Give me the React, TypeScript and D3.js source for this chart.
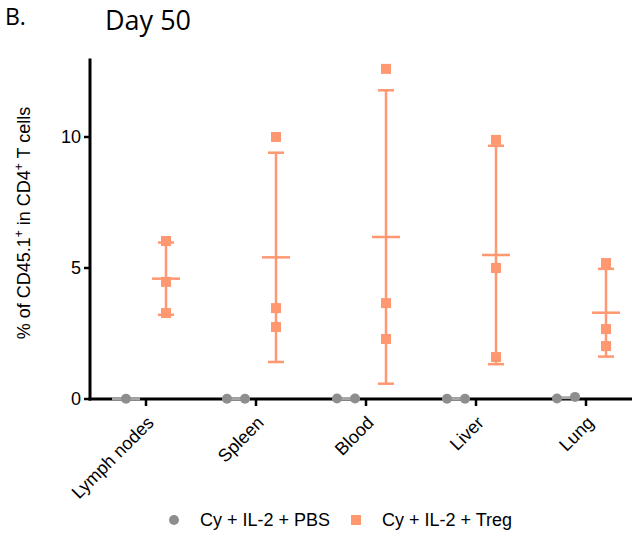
import React from "react";
import * as d3 from "d3";

// organs on the x axis
const categories = ["Lymph nodes", "Spleen", "Blood", "Liver", "Lung"];
// Cy + IL-2 + PBS (all near zero)
const pbsValues = [[0.01], [0.01, 0.01], [0.02, 0.02], [0.01, 0.01], [0.02, 0.08]];
// Cy + IL-2 + Treg
const tregValues = [
  [6.03, 4.47, 3.28],
  [10.0, 3.47, 2.75],
  [12.6, 3.66, 2.29],
  [9.89, 5.0, 1.6],
  [5.19, 2.67, 2.02],
];
const yTicks = [0, 5, 10];
const seriesNames = ["Cy + IL-2 + PBS", "Cy + IL-2 + Treg"];

const GREY = "#8e8e8e";
const ORANGE = "#ff9771";
const FONT = "Liberation Sans, Arial, sans-serif";

export default function App() {
  const width = 637;
  const height = 536;
  const left = 90;
  const right = 632;

  const y = d3.scaleLinear().domain([0, 13]).range([399, 58.4]);
  const x = d3.scalePoint().domain(categories).range([146, 586]);
  const xTreg = (c: string) => (x(c) as number) + 20;
  const xPbs = (c: string) => (x(c) as number) - 20;

  const stats = (v: number[]) => {
    const m = d3.mean(v) as number;
    const sd = d3.deviation(v) || 0;
    return { m, sd };
  };

  return (
    <svg width={width} height={height} style={{ position: "absolute", left: 0, top: 0 }}>
      <rect width={width} height={height} fill="#fff" />
      <text x={5} y={25} fontFamily="Open Sans, sans-serif" fontSize={23}>B.</text>
      <text x={105} y={30} fontFamily="Open Sans, sans-serif" fontSize={27}>Day 50</text>

      {/* y label */}
      <text
        transform={`translate(30,223) rotate(-90)`}
        textAnchor="middle"
        fontFamily={FONT}
        fontSize={18}
      >
        % of CD45.1<tspan fontSize={12} dy={-7}>+</tspan>
        <tspan dy={7}> in CD4</tspan>
        <tspan fontSize={12} dy={-7}>+</tspan>
        <tspan dy={7}> T cells</tspan>
      </text>

      {/* axes */}
      <line x1={left} x2={left} y1={y(13)} y2={y(0) + 1.5} stroke="#000" strokeWidth={3} />
      <line x1={left - 1.5} x2={right} y1={y(0)} y2={y(0)} stroke="#000" strokeWidth={3} />
      {yTicks.map((t) => (
        <g key={t}>
          <line x1={left - 6} x2={left} y1={y(t)} y2={y(t)} stroke="#000" strokeWidth={2.5} />
          <text x={left - 9} y={y(t)} dy="0.36em" textAnchor="end" fontFamily={FONT} fontSize={18}>
            {t}
          </text>
        </g>
      ))}
      {categories.map((c) => (
        <g key={c}>
          <line x1={x(c)} x2={x(c)} y1={y(0)} y2={y(0) + 7} stroke="#000" strokeWidth={2.5} />
          <text
            transform={`translate(${x(c)},${y(0) + 16}) rotate(-45)`}
            textAnchor="end"
            dy="0.7em"
            fontFamily={FONT}
            fontSize={18}
          >
            {c}
          </text>
        </g>
      ))}

      {/* PBS group */}
      {pbsValues.map((vals, i) => {
        const { m } = stats(vals);
        const cx = xPbs(categories[i]);
        const n = vals.length;
        return (
          <g key={"p" + i}>
            <line x1={cx - 14} x2={cx + 14} y1={y(m)} y2={y(m)} stroke="#a6a6a6" strokeWidth={3} />
            {vals.map((v, k) => (
              <circle key={k} cx={cx + (k - (n - 1) / 2) * 18} cy={y(v)} r={5} fill={GREY} />
            ))}
          </g>
        );
      })}

      {/* Treg group */}
      {tregValues.map((vals, i) => {
        const { m, sd } = stats(vals);
        const cx = xTreg(categories[i]);
        return (
          <g key={"t" + i}>
            <line x1={cx} x2={cx} y1={y(m + sd)} y2={y(Math.max(0, m - sd))} stroke={ORANGE} strokeWidth={2.5} />
            <line x1={cx - 8} x2={cx + 8} y1={y(m + sd)} y2={y(m + sd)} stroke={ORANGE} strokeWidth={2.5} />
            <line x1={cx - 8} x2={cx + 8} y1={y(m - sd)} y2={y(m - sd)} stroke={ORANGE} strokeWidth={2.5} />
            <line x1={cx - 14} x2={cx + 14} y1={y(m)} y2={y(m)} stroke={ORANGE} strokeWidth={2.5} />
            {vals.map((v, k) => (
              <rect key={k} x={cx - 5} y={y(v) - 5} width={10} height={10} fill={ORANGE} />
            ))}
          </g>
        );
      })}

      {/* legend */}
      <circle cx={174} cy={520} r={5} fill={GREY} />
      <text x={200} y={520} dy="0.36em" fontFamily={FONT} fontSize={18}>{seriesNames[0]}</text>
      <rect x={351} y={515} width={10} height={10} fill={ORANGE} />
      <text x={382} y={520} dy="0.36em" fontFamily={FONT} fontSize={18}>{seriesNames[1]}</text>
    </svg>
  );
}
